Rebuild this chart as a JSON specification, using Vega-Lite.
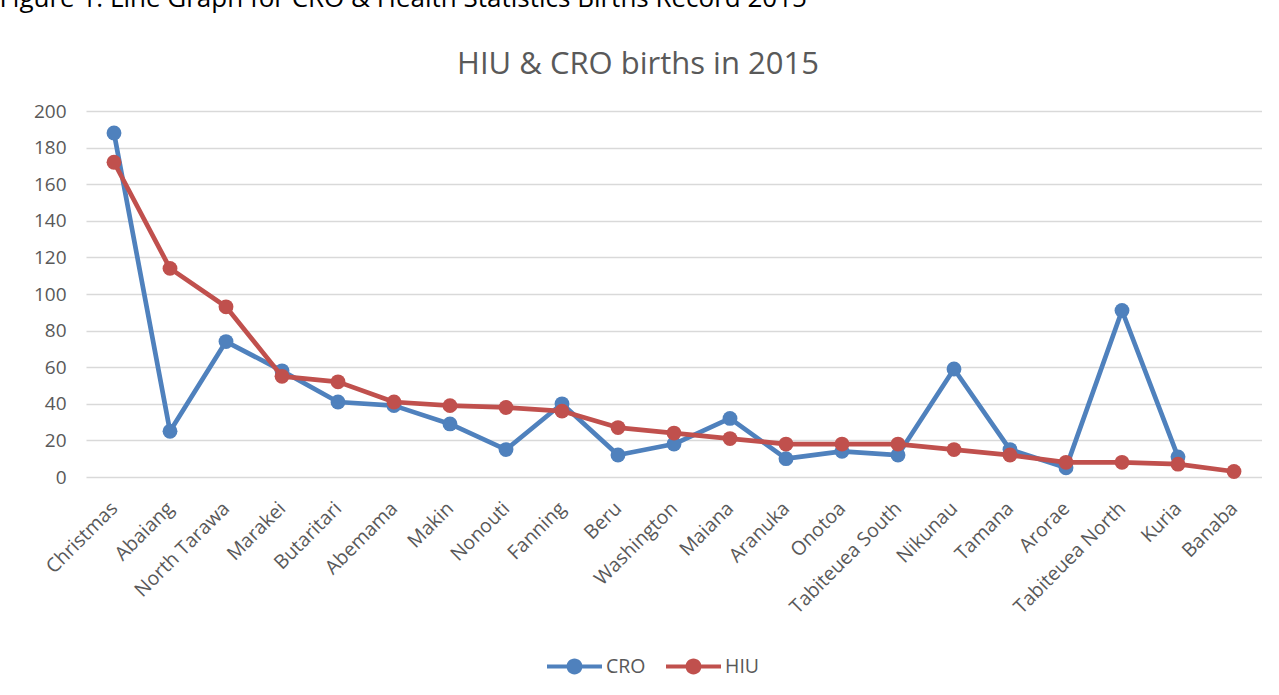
{
  "$schema": "https://vega.github.io/schema/vega-lite/v6.json",
  "padding": {"left": -1, "top": -14, "right": 0, "bottom": 0},
  "background": "white",
  "config": {
    "font": "Open Sans",
    "view": {"stroke": null},
    "concat": {"spacing": 0}
  },
  "title": {
    "text": "Figure 1: Line Graph for CRO & Health Statistics Births Record 2015",
    "anchor": "start",
    "fontSize": 26,
    "fontWeight": "normal",
    "color": "#000000",
    "font": "Open Sans",
    "offset": 37,
    "dx": -34
  },
  "vconcat": [
    {
      "width": 1176,
      "height": 366,
      "title": {
        "text": "HIU & CRO births in 2015",
        "anchor": "middle",
        "fontSize": 31,
        "fontWeight": "normal",
        "color": "#595959",
        "font": "Open Sans",
        "offset": 21,
        "dx": -36
      },
      "data": {
        "values": [
          {"island": "Christmas", "series": "CRO", "births": 188},
          {"island": "Christmas", "series": "HIU", "births": 172},
          {"island": "Abaiang", "series": "CRO", "births": 25},
          {"island": "Abaiang", "series": "HIU", "births": 114},
          {"island": "North Tarawa", "series": "CRO", "births": 74},
          {"island": "North Tarawa", "series": "HIU", "births": 93},
          {"island": "Marakei", "series": "CRO", "births": 58},
          {"island": "Marakei", "series": "HIU", "births": 55},
          {"island": "Butaritari", "series": "CRO", "births": 41},
          {"island": "Butaritari", "series": "HIU", "births": 52},
          {"island": "Abemama", "series": "CRO", "births": 39},
          {"island": "Abemama", "series": "HIU", "births": 41},
          {"island": "Makin", "series": "CRO", "births": 29},
          {"island": "Makin", "series": "HIU", "births": 39},
          {"island": "Nonouti", "series": "CRO", "births": 15},
          {"island": "Nonouti", "series": "HIU", "births": 38},
          {"island": "Fanning", "series": "CRO", "births": 40},
          {"island": "Fanning", "series": "HIU", "births": 36},
          {"island": "Beru", "series": "CRO", "births": 12},
          {"island": "Beru", "series": "HIU", "births": 27},
          {"island": "Washington", "series": "CRO", "births": 18},
          {"island": "Washington", "series": "HIU", "births": 24},
          {"island": "Maiana", "series": "CRO", "births": 32},
          {"island": "Maiana", "series": "HIU", "births": 21},
          {"island": "Aranuka", "series": "CRO", "births": 10},
          {"island": "Aranuka", "series": "HIU", "births": 18},
          {"island": "Onotoa", "series": "CRO", "births": 14},
          {"island": "Onotoa", "series": "HIU", "births": 18},
          {"island": "Tabiteuea South", "series": "CRO", "births": 12},
          {"island": "Tabiteuea South", "series": "HIU", "births": 18},
          {"island": "Nikunau", "series": "CRO", "births": 59},
          {"island": "Nikunau", "series": "HIU", "births": 15},
          {"island": "Tamana", "series": "CRO", "births": 15},
          {"island": "Tamana", "series": "HIU", "births": 12},
          {"island": "Arorae", "series": "CRO", "births": 5},
          {"island": "Arorae", "series": "HIU", "births": 8},
          {"island": "Tabiteuea North", "series": "CRO", "births": 91},
          {"island": "Tabiteuea North", "series": "HIU", "births": 8},
          {"island": "Kuria", "series": "CRO", "births": 11},
          {"island": "Kuria", "series": "HIU", "births": 7},
          {"island": "Banaba", "series": "HIU", "births": 3}
        ]
      },
      "encoding": {
        "x": {
          "field": "island",
          "type": "nominal",
          "sort": null,
          "scale": {"type": "point", "padding": 0.5},
          "axis": {
            "title": null,
            "labelAngle": -45,
            "labelAlign": "right",
            "labelBaseline": "middle",
            "labelFontSize": 19.5,
            "labelColor": "#595959",
            "labelPadding": 28,
            "ticks": false,
            "domain": false,
            "grid": false,
            "labelOverlap": false
          }
        },
        "y": {
          "field": "births",
          "type": "quantitative",
          "scale": {"domain": [0, 200], "nice": false},
          "axis": {
            "title": null,
            "values": [0, 20, 40, 60, 80, 100, 120, 140, 160, 180, 200],
            "labelFontSize": 19,
            "labelColor": "#595959",
            "labelPadding": 20,
            "ticks": false,
            "domain": false,
            "gridColor": "#D9D9D9",
            "gridWidth": 1.5
          }
        },
        "color": {
          "field": "series",
          "type": "nominal",
          "scale": {"domain": ["CRO", "HIU"], "range": ["#4F81BD", "#C0504D"]},
          "legend": {
            "title": null,
            "orient": "none",
            "direction": "horizontal",
            "legendX": 461,
            "legendY": 528,
            "symbolType": "M-1,-0.075 L-0.25,-0.075 L-0.25,0.075 L-1,0.075 Z M0.25,-0.075 L1,-0.075 L1,0.075 L0.25,0.075 Z M-0.29,0 A0.29,0.29 0 1,1 0.29,0 A0.29,0.29 0 1,1 -0.29,0 Z",
            "symbolSize": 3025,
            "symbolStrokeWidth": 0,
            "labelFontSize": 19.5,
            "labelColor": "#595959",
            "labelOffset": 4,
            "columnPadding": 20,
            "encode": {
              "symbols": {
                "update": {
                  "fill": {"scale": "color", "field": "value"},
                  "fillOpacity": {"value": 1},
                  "strokeWidth": {"value": 0}
                }
              }
            }
          }
        }
      },
      "layer": [
        {
          "transform": [{"filter": "datum.series === 'CRO'"}],
          "mark": {"type": "line", "strokeWidth": 4.7, "strokeCap": "round", "strokeJoin": "round"}
        },
        {
          "transform": [{"filter": "datum.series === 'CRO'"}],
          "mark": {"type": "point", "filled": true, "size": 220, "opacity": 1}
        },
        {
          "transform": [{"filter": "datum.series === 'HIU'"}],
          "mark": {"type": "line", "strokeWidth": 4.7, "strokeCap": "round", "strokeJoin": "round"}
        },
        {
          "transform": [{"filter": "datum.series === 'HIU'"}],
          "mark": {"type": "point", "filled": true, "size": 220, "opacity": 1}
        }
      ]
    }
  ]
}
